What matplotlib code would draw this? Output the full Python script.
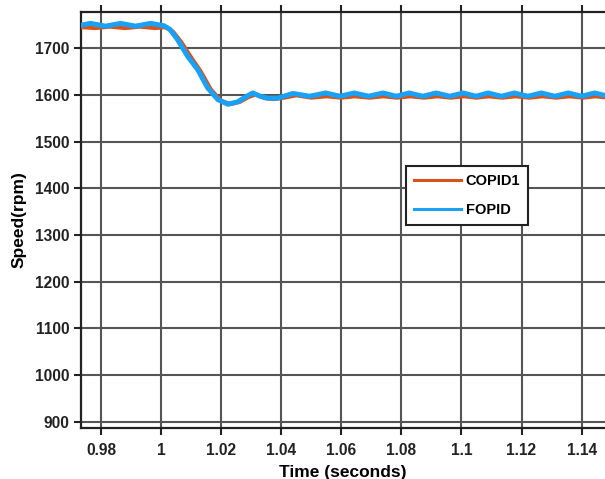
import matplotlib
matplotlib.use('Agg')
import matplotlib.pyplot as plt

# FOPID response (time in s, speed in rpm)
t_fopid = [0.9733, 0.9765, 0.9815, 0.9865, 0.9915, 0.9965, 1.0009, 1.0030,
           1.0055, 1.0089, 1.0122, 1.0155, 1.0189, 1.0222, 1.0255, 1.0280,
           1.0305, 1.0330, 1.0355, 1.0389, 1.0439, 1.0494, 1.0548, 1.0596,
           1.0643, 1.0691, 1.0739, 1.0783, 1.0826, 1.0871, 1.0916, 1.0961,
           1.1006, 1.1048, 1.1089, 1.1133, 1.1176, 1.1221, 1.1266, 1.1311,
           1.1356, 1.1400, 1.1443, 1.1490]
v_fopid = [1749, 1753, 1747, 1753, 1747, 1753, 1748, 1740,
           1718, 1682, 1654, 1615, 1590, 1580, 1585, 1595,
           1604, 1597, 1593, 1593, 1603, 1597, 1604, 1597,
           1604, 1597, 1604, 1597, 1604, 1597, 1604, 1597,
           1604, 1597, 1604, 1597, 1604, 1597, 1604, 1597,
           1604, 1597, 1604, 1597]

# COPID1 response
t_copid = [0.9733, 0.9780, 0.9830, 0.9880, 0.9930, 0.9980, 1.0015, 1.0040,
           1.0068, 1.0100, 1.0132, 1.0165, 1.0198, 1.0230, 1.0262, 1.0290,
           1.0315, 1.0345, 1.0375, 1.0410, 1.0450, 1.0500, 1.0550, 1.0600,
           1.0645, 1.0695, 1.0740, 1.0785, 1.0830, 1.0875, 1.0920, 1.0965,
           1.1010, 1.1050, 1.1090, 1.1135, 1.1180, 1.1225, 1.1270, 1.1315,
           1.1360, 1.1405, 1.1445, 1.1490]
v_copid = [1745, 1743, 1746, 1743, 1746, 1743, 1745, 1735,
           1712, 1680, 1650, 1612, 1588, 1580, 1585, 1595,
           1601, 1593, 1591, 1594, 1599, 1594, 1597, 1594,
           1597, 1594, 1597, 1594, 1597, 1594, 1597, 1594,
           1597, 1594, 1597, 1594, 1597, 1594, 1597, 1594,
           1597, 1594, 1597, 1594]

xticks = [0.98, 1.0, 1.02, 1.04, 1.06, 1.08, 1.1, 1.12, 1.14]
xtick_labels = ['0.98', '1', '1.02', '1.04', '1.06', '1.08', '1.1', '1.12', '1.14']
yticks = [900, 1000, 1100, 1200, 1300, 1400, 1500, 1600, 1700]

plt.rcParams['font.family'] = ['Liberation Sans', 'DejaVu Sans']
plt.rcParams['font.weight'] = 'bold'

fig = plt.figure(figsize=(6.05, 4.79), dpi=100)
ax = fig.add_axes([0.1334, 0.1065, 0.8666, 0.8691])

ax.plot(t_copid, v_copid, color='#D95319', lw=3.0, label='COPID1',
        solid_joinstyle='round', zorder=3)
ax.plot(t_fopid, v_fopid, color='#1AA0F5', lw=3.6, label='FOPID',
        solid_joinstyle='round', zorder=4)

ax.set_xlim(0.97324, 1.1478)
ax.set_ylim(887, 1778)
ax.set_xticks(xticks)
ax.set_xticklabels(xtick_labels)
ax.set_yticks(yticks)

ax.grid(True, color='#555555', lw=1.5, zorder=1)
ax.set_axisbelow(True)
for side in ['left', 'bottom', 'top']:
    ax.spines[side].set_linewidth(1.6)
    ax.spines[side].set_color('#222222')
ax.spines['right'].set_visible(False)
ax.tick_params(direction='out', length=5, width=1.5, labelsize=11.2,
               top=True, colors='#222222')
ax.tick_params(axis='x', pad=6)
ax.tick_params(axis='y', pad=3)

ax.set_xlabel('Time (seconds)', fontsize=12.5, fontweight='bold', labelpad=5)
ax.set_ylabel('Speed(rpm)', fontsize=12.5, fontweight='bold', labelpad=6)

leg = ax.legend(loc='upper left', bbox_to_anchor=(0.671, 0.653),
                bbox_transform=fig.transFigure, borderaxespad=0,
                fancybox=False, framealpha=1, edgecolor='#222222',
                fontsize=10.5, handlelength=3.2, handletextpad=0.35,
                labelspacing=1.0, borderpad=0.55)
leg.get_frame().set_linewidth(1.5)
for line in leg.get_lines():
    line.set_linewidth(2.2)

fig.savefig('out.png', dpi=100)
